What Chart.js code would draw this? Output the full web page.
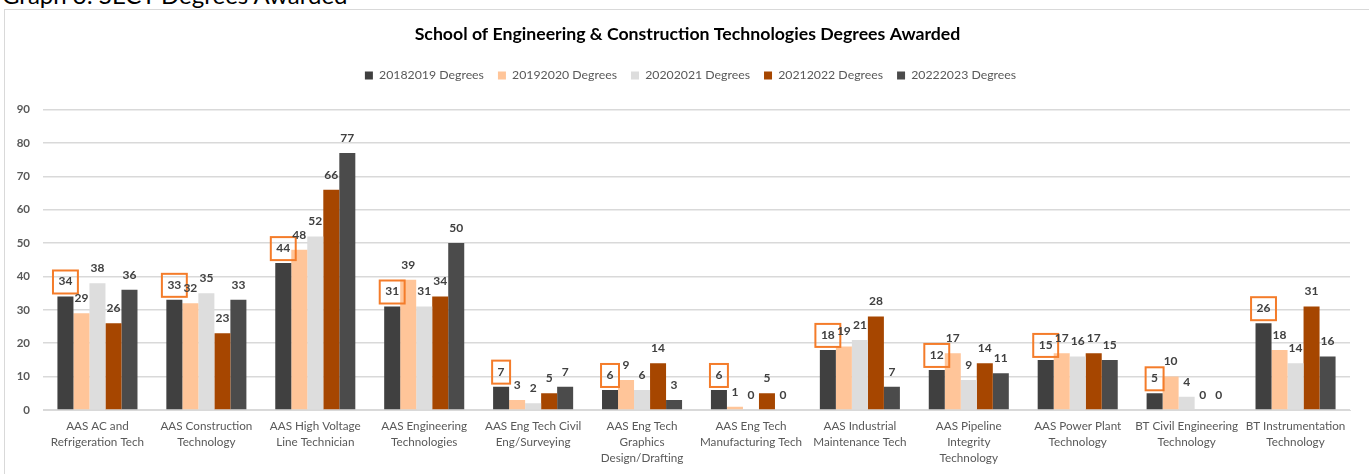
<!DOCTYPE html>
<html>
<head>
<meta charset="utf-8">
<script src="https://cdn.jsdelivr.net/npm/chart.js@4"></script>
<style>
  html, body { margin: 0; padding: 0; background: #fff; overflow: hidden; }
  body { width: 1369px; height: 474px; position: relative; }
  #caption {
    position: absolute; left: 2px; top: -20px;
    font: 24px Lato, sans-serif; color: #000; white-space: nowrap;
  }
  #frame {
    position: absolute; left: 4px; top: 9px;
    width: 1370px; height: 470px;
    border: 1px solid #D9D9D9; overflow: hidden;
  }
</style>
</head>
<body>
<div id="caption">Graph 3: SECT Degrees Awarded</div>
<div id="frame"><canvas id="degreesChart" width="1370" height="470"></canvas></div>
<script>
const programs = [
  ["AAS AC and", "Refrigeration Tech"],
  ["AAS Construction", "Technology"],
  ["AAS High Voltage", "Line Technician"],
  ["AAS Engineering", "Technologies"],
  ["AAS Eng Tech Civil", "Eng/Surveying"],
  ["AAS Eng Tech", "Graphics", "Design/Drafting"],
  ["AAS Eng Tech", "Manufacturing Tech"],
  ["AAS Industrial", "Maintenance Tech"],
  ["AAS Pipeline", "Integrity", "Technology"],
  ["AAS Power Plant", "Technology"],
  ["BT Civil Engineering", "Technology"],
  ["BT Instrumentation", "Technology"],
];

const years = [
  "20182019 Degrees",
  "20192020 Degrees",
  "20202021 Degrees",
  "20212022 Degrees",
  "20222023 Degrees",
];

const deg1819 = [34, 33, 44, 31, 7, 6, 6, 18, 12, 15, 5, 26];
const deg1920 = [29, 32, 48, 39, 3, 9, 1, 19, 17, 17, 10, 18];
const deg2021 = [38, 35, 52, 31, 2, 6, 0, 21, 9, 16, 4, 14];
const deg2122 = [26, 23, 66, 34, 5, 14, 5, 28, 14, 17, 0, 31];
const deg2223 = [36, 33, 77, 50, 7, 3, 0, 7, 11, 15, 0, 16];

const yTicks = [0, 10, 20, 30, 40, 50, 60, 70, 80, 90];

const colors = ["#404040", "#FFC599", "#DDDDDD", "#A64600", "#4B4B4B"];
const seriesData = [deg1819, deg1920, deg2021, deg2122, deg2223];

// value labels above each bar; the first year's labels get an orange box
const valueLabels = {
  id: "valueLabels",
  afterDatasetsDraw(chart) {
    const ctx = chart.ctx;
    ctx.save();
    ctx.font = "bold 12px Lato, sans-serif";
    ctx.textAlign = "center";
    ctx.textBaseline = "middle";
    chart.data.datasets.forEach((ds, i) => {
      const meta = chart.getDatasetMeta(i);
      meta.data.forEach((bar, j) => {
        const txt = String(ds.data[j]);
        const x = bar.x;
        const y = bar.y - 15;
        ctx.fillStyle = "#404040";
        ctx.fillText(txt, x, y);
        if (i === 0) {
          const w = ctx.measureText(txt).width + 11;
          ctx.strokeStyle = "#F47C2A";
          ctx.lineWidth = 2;
          ctx.strokeRect(x - w / 2, y - 11, w, 23);
        }
      });
    });
    ctx.restore();
  },
};

// gap under the legend row, and title/legend nudged to the frame's centre
const headerLayout = {
  id: "headerLayout",
  beforeInit(chart) {
    const fit = chart.legend.fit;
    chart.legend.fit = function () {
      fit.call(this);
      this.height += 18;
    };
  },
  afterLayout(chart) {
    chart.titleBlock.left += 6;
    chart.titleBlock.right += 6;
    chart.legend.left += 9;
    chart.legend.right += 9;
  },
};

new Chart(document.getElementById("degreesChart"), {
  type: "bar",
  data: {
    labels: programs,
    datasets: years.map((name, i) => ({
      label: name,
      data: seriesData[i],
      backgroundColor: colors[i],
      categoryPercentage: 0.735,
      barPercentage: 1.0,
    })),
  },
  options: {
    responsive: false,
    animation: false,
    devicePixelRatio: 1,
    layout: { padding: { left: 8, right: 25, top: 0, bottom: 0 } },
    plugins: {
      title: {
        display: true,
        text: "School of Engineering & Construction Technologies Degrees Awarded",
        color: "#000",
        font: { family: "Lato", size: 17.7, weight: "bold" },
        padding: { top: 14, bottom: 10 },
      },
      legend: {
        position: "top",
        labels: {
          boxWidth: 8,
          boxHeight: 8,
          color: "#595959",
          padding: 14,
          font: { family: "Lato", size: 12.3 },
        },
      },
      tooltip: { enabled: false },
    },
    scales: {
      x: {
        grid: { display: false, drawTicks: false },
        border: { color: "#D9D9D9", width: 1 },
        ticks: {
          color: "#595959",
          padding: 8,
          autoSkip: false,
          maxRotation: 0,
          font: { family: "Lato", size: 11.7, lineHeight: 1.37 },
        },
        afterFit: (axis) => { axis.height = 70; },
      },
      y: {
        min: 0,
        max: 90,
        afterBuildTicks: (axis) => {
          axis.ticks = yTicks.map((value) => ({ value }));
        },
        grid: { color: "#D9D9D9", lineWidth: 1.5, drawTicks: false },
        border: { display: false },
        ticks: {
          color: "#595959",
          padding: 13,
          font: { family: "Lato", size: 11.5, weight: "bold" },
        },
        afterFit: (axis) => { axis.width = 30; },
      },
    },
  },
  plugins: [valueLabels, headerLayout],
});
</script>
</body>
</html>
